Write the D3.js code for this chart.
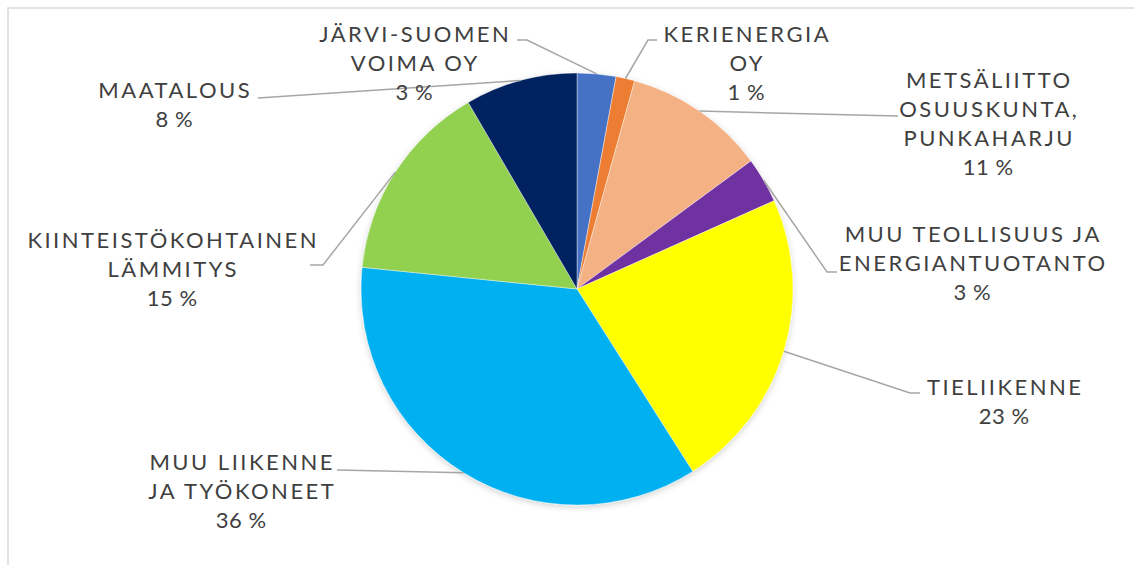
<!DOCTYPE html>
<html><head><meta charset="utf-8">
<script src="https://cdn.jsdelivr.net/npm/d3@7"></script>
<style>html,body{margin:0;padding:0;background:#fff;}svg{display:block;}</style>
</head><body>
<svg id="c" width="1134" height="565"></svg>
<script>
const categories = ["JÄRVI-SUOMEN VOIMA OY","KERIENERGIA OY","METSÄLIITTO OSUUSKUNTA, PUNKAHARJU","MUU TEOLLISUUS JA ENERGIANTUOTANTO","TIELIIKENNE","MUU LIIKENNE JA TYÖKONEET","KIINTEISTÖKOHTAINEN LÄMMITYS","MAATALOUS"];
const labelLines = [["JÄRVI-SUOMEN","VOIMA OY"],["KERIENERGIA","OY"],["METSÄLIITTO","OSUUSKUNTA,","PUNKAHARJU"],["MUU TEOLLISUUS JA","ENERGIANTUOTANTO"],["TIELIIKENNE"],["MUU LIIKENNE","JA TYÖKONEET"],["KIINTEISTÖKOHTAINEN","LÄMMITYS"],["MAATALOUS"]];
const values = [2.9, 1.4, 10.6, 3.4, 22.7, 35.6, 15.0, 8.4];
const colors = ["#4472C4","#ED7D31","#F4B183","#7030A0","#FFFF00","#00B0F0","#92D050","#002060"];

// label layout: center x, first baseline y, leader path points after the pie edge
const labelLayout = [
  {x:414, y:42, pts:[[527,40],[517,40]]},
  {x:746, y:42, pts:[[648,40],[657,40]]},
  {x:988, y:88, pts:[[898,116]]},
  {x:972, y:242, pts:[[827,272],[837,272]]},
  {x:1004, y:395, pts:[[910,393],[920,393]]},
  {x:241, y:470, pts:[[337,470]]},
  {x:172, y:248, pts:[[323,265],[310,265]]},
  {x:174, y:98, pts:[[258,98]]}
];
const lineH = 29;

const svg = d3.select("#c");
const defs = svg.append("defs");
const f = defs.append("filter").attr("id","sh").attr("x","-10%").attr("y","-10%").attr("width","120%").attr("height","120%");
f.append("feDropShadow").attr("dx",0).attr("dy",2).attr("stdDeviation",3).attr("flood-color","#000").attr("flood-opacity",0.18);

svg.append("rect").attr("x",8).attr("y",8).attr("width",1200).attr("height",600)
  .attr("fill","none").attr("stroke","#d9d9d9").attr("stroke-width",1.5);

const cx = 577, cy = 289, R = 216;
const pie = d3.pie().sort(null).value(d=>d)(values);
const arc = d3.arc().innerRadius(0).outerRadius(R);
const g = svg.append("g").attr("transform",`translate(${cx},${cy})`);
g.append("g").attr("filter","url(#sh)").selectAll("path").data(pie).join("path")
  .attr("d",arc).attr("fill",(d,i)=>colors[i]).attr("stroke","#fff").attr("stroke-width",0.4);

// leader lines
const edge = d3.arc().innerRadius(R).outerRadius(R);
pie.forEach((d,i)=>{
  const c = edge.centroid(d);
  const p = [[cx+c[0], cy+c[1]], ...labelLayout[i].pts];
  svg.append("path").attr("d", d3.line()(p)).attr("fill","none")
    .attr("stroke","#a6a6a6").attr("stroke-width",1.5);
});

// labels
pie.forEach((d,i)=>{
  const L = labelLayout[i];
  const lines = [...labelLines[i], Math.round(values[i]) + " %"];
  const t = svg.append("text").attr("y",L.y).attr("text-anchor","middle")
    .attr("font-family","Lato, 'DejaVu Sans', sans-serif").attr("font-size",22).attr("font-weight",400)
    .attr("fill","#404040");
  lines.forEach((s,k)=>{
    const isPct = k === lines.length - 1;
    const ls = isPct ? 0.5 : 2.5;
    t.append("tspan").attr("x",L.x + ls/2).attr("y",L.y + k*lineH)
      .attr("letter-spacing", ls).text(s);
  });
});
</script>
</body></html>
